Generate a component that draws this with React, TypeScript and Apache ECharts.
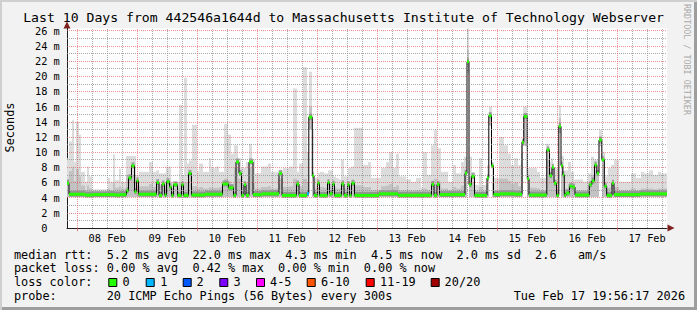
import React, { useEffect, useRef } from "react";
import * as echarts from "echarts";

// ---------- data ----------
const TITLE = "Last 10 Days from 442546a1644d to Massachusetts Institute of Technology Webserver";
const WATERMARK = "RRDTOOL / TOBI OETIKER";
const Y_TITLE = "Seconds";

// x is hours since Feb 7 00:00; graph spans Feb 7 19:56 .. Feb 17 19:56
const X_MIN = 19.94;
const X_MAX = 259.94;
const Y_MAX = 26.36;

const dayLabels = ["08 Feb", "09 Feb", "10 Feb", "11 Feb", "12 Feb", "13 Feb", "14 Feb", "15 Feb", "16 Feb", "17 Feb"];
const dayLabelHours = [36, 60, 84, 108, 132, 156, 180, 204, 228, 252];
const midnightHours = [24, 48, 72, 96, 120, 144, 168, 192, 216, 240];
const yLabelValues = [0, 2, 4, 6, 8, 10, 12, 14, 16, 18, 20, 22, 24, 26];

// median rtt (ms), step function: value holds from medianHours[i] to medianHours[i+1]
const medianHours = [
  19.94, 20.74, 27.14, 29.94, 39.14, 41.14, 43.74, 44.54, 45.74, 46.94, 47.74, 48.54,
  55.74, 56.74, 57.94, 58.94, 59.74, 60.94, 61.74, 62.54, 64.14, 65.74, 66.54, 68.54,
  69.74, 75.14, 82.14, 84.54, 86.54, 87.54, 88.74, 89.74, 90.74, 91.54, 92.74, 94.34,
  97.94, 104.74, 105.94, 111.74, 112.74, 115.94, 116.66, 118.06, 118.74, 120.14, 120.94,
  124.14, 124.94, 126.14, 126.94, 129.74, 130.74, 132.14, 132.94, 133.74, 134.94,
  144.74, 152.34, 165.74, 166.74, 167.94, 168.94, 179.14, 179.94, 180.74, 181.74,
  182.94, 187.94, 188.66, 189.74, 190.54, 193.14, 199.14, 201.94, 202.66, 204.06,
  204.74, 211.86, 212.94, 213.94, 214.74, 215.74, 216.66, 217.54, 218.26, 218.86,
  219.54, 220.94, 222.14, 223.14, 228.86, 229.86, 230.94, 231.86, 232.74, 233.86,
  234.86, 235.82, 237.94, 238.74, 249.14,
];
const medianValues = [
  5.9, 4.45, 4.35, 4.4, 4.35, 4.4, 4.9, 6.6, 8.2, 4.8, 6.2, 4.45,
  6.0, 4.3, 5.8, 4.35, 6.1, 5.4, 4.3, 5.7, 4.3, 5.7, 4.3, 7.2,
  4.35, 4.45, 5.8, 5.3, 4.3, 8.7, 7.2, 4.3, 5.7, 4.3, 8.7, 4.4,
  4.5, 7.2, 4.3, 5.8, 4.3, 4.55, 14.6, 6.9, 4.3, 5.9, 4.3,
  6.0, 4.5, 5.8, 4.3, 5.8, 4.3, 5.7, 4.3, 5.9, 4.3,
  4.5, 4.3, 5.75, 4.3, 5.75, 4.4, 7.2, 21.9, 5.7, 6.8,
  4.3, 6.6, 14.8, 8.2, 4.4, 4.5, 4.45, 11.3, 14.7, 6.5,
  4.35, 10.3, 6.9, 8.0, 5.9, 4.3, 13.4, 8.2, 7.0, 4.3,
  4.6, 5.5, 5.4, 4.35, 5.7, 6.2, 8.3, 7.2, 11.6, 9.0,
  5.5, 4.3, 5.9, 4.4, 4.5,
];
// packets lost (of 20) per median step
const medianLoss = medianHours.map((h) => (h === 115.94 ? 1 : 0));

// smoke (distribution of the 20 pings), blocks from smokeStart[i] to smokeStart[i+1]
const smokeStart = [
  19.94, 20.74, 21.94, 22.74, 23.54, 24.74, 25.54, 27.14, 27.94, 28.74, 29.94, 36.34, 37.14, 38.34, 39.14,
  40.74, 41.54, 43.54, 47.54, 48.74, 52.74, 54.34, 55.54, 56.74, 59.54, 61.54, 64.74, 65.94, 66.74, 67.94,
  68.74, 69.94, 71.94, 72.74, 74.34, 76.74, 77.54, 79.54, 80.74, 82.74, 84.34, 85.54, 86.74, 88.34, 89.54,
  91.54, 92.74, 93.94, 95.14, 97.54, 100.34, 101.54, 104.34, 106.34, 108.74, 110.34, 111.94, 112.74, 114.34,
  115.94, 116.74, 117.94, 118.74, 120.34, 121.14, 122.74, 124.34, 126.34, 127.54, 128.74, 129.54, 130.74,
  132.34, 133.54, 134.74, 138.34, 140.34, 141.54, 145.54, 147.54, 148.74, 150.34, 151.54, 152.74, 155.54,
  157.54, 159.54, 161.54, 162.34, 163.94, 165.54, 166.74, 167.94, 169.54, 172.34, 174.34, 175.54, 177.54,
  178.74, 179.94, 180.74, 181.94, 183.14, 184.74, 185.94, 187.94, 188.74, 189.94, 190.74, 192.74, 194.74,
  196.34, 197.54, 198.74, 200.34, 201.54, 202.34, 203.94, 205.14, 207.94, 209.14, 211.54, 212.74, 213.54,
  214.34, 215.94, 216.66, 217.54, 218.74, 220.34, 221.54, 222.74, 226.34, 228.34, 229.54, 230.74, 232.74,
  233.94, 235.14, 236.34, 237.54, 238.74, 240.74, 245.54, 247.54, 249.54, 250.74, 252.74, 254.34, 256.34,
  257.54,
];
const smokeMax = [
  9.2, 11.4, 14.2, 8.7, 14.0, 12.3, 7.4, 6.1, 8.1, 6.8, 5.1, 6.6, 6.1, 9.7, 6.3,
  7.8, 6.1, 9.5, 7.0, 7.4, 8.7, 7.4, 7.6, 7.2, 8.1, 6.1, 16.2, 7.0, 19.8, 8.5,
  8.9, 13.6, 7.4, 8.5, 7.4, 9.2, 7.9, 8.1, 7.4, 13.7, 12.3, 9.8, 10.9, 9.2, 7.9,
  8.7, 11.1, 9.0, 7.2, 8.1, 8.5, 7.4, 7.6, 7.9, 8.1, 18.4, 7.4, 8.5, 21.2,
  10.0, 20.6, 12.9, 6.6, 7.2, 7.4, 7.2, 7.6, 6.8, 6.6, 6.4, 9.0, 6.8,
  7.9, 8.1, 13.2, 8.3, 8.7, 6.6, 7.9, 8.7, 10.0, 7.9, 9.8, 6.8, 6.4,
  6.1, 6.6, 5.3, 10.0, 7.0, 10.9, 12.9, 10.5, 7.4, 6.1, 8.3, 7.2, 8.7,
  9.4, 26.3, 9.4, 7.4, 5.7, 9.2, 5.7, 8.3, 16.0, 8.3, 6.6, 12.0, 10.9,
  9.8, 8.3, 9.2, 8.3, 11.5, 16.0, 7.9, 7.9, 7.4, 6.6, 11.1, 8.7, 9.2,
  7.9, 7.9, 16.2, 9.5, 7.6, 8.7, 7.4, 6.4, 6.1, 7.2, 9.4, 9.0, 12.9,
  10.0, 6.8, 7.9, 8.3, 9.0, 6.1, 7.2, 6.6, 7.4, 7.2, 7.6, 7.0, 7.4,
  7.2,
];
const smokeMid = [
  6.5, 7.5, 8.0, 6.2, 7.8, 6.8, 5.6, 5.0, 5.6, 5.2, 4.7, 5.2, 5.0, 6.0, 5.3,
  5.5, 5.2, 7.0, 5.6, 5.5, 5.8, 5.4, 6.2, 5.6, 6.2, 5.2, 6.0, 5.0, 6.0, 6.0,
  7.2, 5.5, 5.2, 5.4, 5.2, 5.4, 5.3, 5.3, 5.4, 6.5, 6.2, 5.8, 8.0, 6.5, 5.8,
  6.0, 8.0, 6.0, 5.2, 5.4, 5.5, 5.2, 6.5, 5.4, 5.5, 6.5, 5.6, 5.5, 6.5,
  6.0, 16.0, 7.0, 5.2, 5.4, 5.4, 5.3, 5.8, 5.3, 5.2, 5.2, 5.8, 5.2,
  5.6, 5.8, 5.6, 5.4, 5.4, 5.0, 5.5, 5.6, 5.8, 5.4, 5.6, 5.0, 5.0,
  4.9, 5.0, 4.8, 5.2, 5.0, 6.2, 6.5, 6.0, 5.2, 5.0, 5.4, 5.2, 5.6,
  7.6, 23.5, 6.8, 6.0, 4.9, 5.4, 4.9, 7.0, 15.2, 6.0, 5.0, 6.5, 6.5,
  6.2, 5.8, 6.0, 5.5, 10.0, 15.0, 6.2, 5.3, 5.2, 5.0, 9.0, 7.2, 7.8,
  5.8, 5.2, 14.5, 7.5, 5.2, 5.8, 5.6, 5.0, 5.0, 6.0, 7.0, 7.5, 12.0,
  8.5, 5.2, 5.3, 6.0, 5.4, 5.0, 5.2, 5.0, 5.2, 5.2, 5.2, 5.1, 5.2,
  5.2,
];
const smokeLowOverrides: Record<string, number> = {
  "116.74": 13.0,
  "179.94": 20.5,
  "188.74": 13.5,
  "202.34": 10.8,
  "216.66": 12.5,
  "232.74": 10.8,
};
const SMOKE_LOW_DEFAULT = 4.1;

// legend
const lossLabels = ["0", "1", "2", "3", "4-5", "6-10", "11-19", "20/20"];
const lossColors = ["#26ff00", "#00b8ff", "#0059ff", "#7e00ff", "#ff00ff", "#ff5500", "#ff0000", "#a00000"];
const statLine1: [number, string][] = [
  [0, "median rtt:"], [13, "5.2 ms avg"], [25, "22.0 ms max"], [38, "4.3 ms min"],
  [50, "4.5 ms now"], [62, "2.0 ms sd"], [73, "2.6"], [79, "am/s"],
];
const statLine2: [number, string][] = [
  [0, "packet loss:"], [13, "0.00 % avg"], [25, "0.42 % max"], [37, "0.00 % min"], [49, "0.00 % now"],
];
const lossLineLabel = "loss color:";
const probeLine: [number, string][] = [[0, "probe:"], [13, "20 ICMP Echo Pings (56 Bytes) every 300s"]];
const timestampText = "Tue Feb 17 19:56:17 2026";

// ---------- layout / style ----------
const MONO = '"DejaVu Sans Mono", "Liberation Mono", monospace';
const LEG_FS = 11.86;
const CW = LEG_FS * 0.602;
const LEG_X0 = 13.9;
const LEG_Y = [254.6, 268.3, 282.0, 295.7];
const boxX = [108.3, 145.7, 182.7, 219.3, 256, 306.7, 365.7, 430.7];
const boxLabelX = [122.6, 160.3, 196.6, 233.6, 270.0, 321.0, 380.0, 444.6];

function lossColor(n: number) {
  if (n <= 0) return lossColors[0];
  if (n === 1) return lossColors[1];
  if (n === 2) return lossColors[2];
  if (n === 3) return lossColors[3];
  if (n <= 5) return lossColors[4];
  if (n <= 10) return lossColors[5];
  if (n <= 19) return lossColors[6];
  return lossColors[7];
}

export default function App() {
  const ref = useRef<HTMLDivElement>(null);

  useEffect(() => {
    document.body.style.margin = "0";
    const chart = echarts.init(ref.current!, null, { renderer: "svg" });

    const minorStyle = { color: "rgba(143,143,143,0.75)", type: [1, 1] as any, width: 1 };
    const majorStyle = { color: "rgba(222,79,79,0.6)", type: [1, 1] as any, width: 1 };
    const minorX: number[] = [];
    for (let h = 6; h < X_MAX; h += 6) if (h > X_MIN && h % 24 !== 0) minorX.push(h);
    const yMinor: number[] = [];
    for (let v = 1; v < Y_MAX; v += 2) yMinor.push(v);
    const yMajor = yLabelValues.filter((v) => v > 0);

    const smokeData = smokeStart.map((s, i) => [
      s,
      i + 1 < smokeStart.length ? smokeStart[i + 1] : X_MAX,
      smokeLowOverrides[s.toFixed(2)] ?? SMOKE_LOW_DEFAULT,
      smokeMid[i],
      smokeMax[i],
    ]);
    const medianSteps = medianHours.map((h, i) => [
      h,
      i + 1 < medianHours.length ? medianHours[i + 1] : X_MAX,
      medianValues[i],
      medianLoss[i],
    ]);
    const medianLine = medianHours.map((h, i) => [h, medianValues[i]]);
    medianLine.push([X_MAX, medianValues[medianValues.length - 1]]);

    const txt = (x: number, y: number, text: string, extra: any = {}) => ({
      type: "text",
      x,
      y,
      silent: true,
      style: {
        text,
        x: 0,
        y: 0,
        fill: extra.fill ?? "#000",
        font: `${extra.fontSize ?? LEG_FS}px ${MONO}`,
        align: extra.align ?? "left",
        verticalAlign: "middle",
        ...(extra.lineHeight ? { lineHeight: extra.lineHeight } : {}),
      },
      ...(extra.rotation !== undefined ? { rotation: extra.rotation } : {}),
    });

    const graphics: any[] = [];
    graphics.push(txt(23.2, 17.6, TITLE, { fontSize: 13.15, lineHeight: 11 }));
    graphics.push(txt(687, 4, WATERMARK, { fontSize: 8.4, fill: "#aaaaaa", rotation: -Math.PI / 2 }));
    graphics.push(txt(10, 127.5, Y_TITLE, { align: "center", rotation: Math.PI / 2 }));
    statLine1.forEach(([c, t]) => graphics.push(txt(LEG_X0 + c * CW, LEG_Y[0], t)));
    statLine2.forEach(([c, t]) => graphics.push(txt(LEG_X0 + c * CW, LEG_Y[1], t)));
    graphics.push(txt(LEG_X0, LEG_Y[2], lossLineLabel));
    lossLabels.forEach((l, i) => {
      graphics.push({
        type: "rect",
        silent: true,
        shape: { x: boxX[i] + 0.5, y: 278.5, width: 8, height: 8 },
        style: { fill: lossColors[i], stroke: "#000", lineWidth: 1 },
      });
      graphics.push(txt(boxLabelX[i], LEG_Y[2], l));
    });
    probeLine.forEach(([c, t]) => graphics.push(txt(LEG_X0 + c * CW, LEG_Y[3], t)));
    graphics.push(txt(LEG_X0 + 70 * CW, LEG_Y[3], timestampText));

    const option: any = {
      animation: false,
      backgroundColor: "transparent",
      grid: {
        left: 67,
        right: 30,
        top: 28,
        bottom: 82,
        show: true,
        backgroundColor: "#ffffff",
        borderWidth: 0,
      },
      xAxis: {
        type: "value",
        min: X_MIN,
        max: X_MAX,
        axisLine: { show: true, onZero: false, lineStyle: { color: "#1f1f1f", width: 1 } },
        splitLine: { show: false },
        axisTick: {
          show: true,
          customValues: midnightHours,
          length: 3,
          lineStyle: { color: "rgba(222,79,79,0.8)" },
        },
        axisLabel: {
          show: true,
          customValues: dayLabelHours,
          formatter: (v: number) => {
            const i = dayLabelHours.findIndex((h) => Math.abs(h - v) < 0.01);
            return i >= 0 ? dayLabels[i] : "";
          },
          fontFamily: MONO,
          fontSize: 10.3,
          color: "#000",
          margin: 5,
        },
      },
      yAxis: {
        type: "value",
        min: 0,
        max: Y_MAX,
        interval: 2,
        axisLine: { show: true, lineStyle: { color: "#1f1f1f", width: 1 } },
        axisTick: { show: false },
        splitLine: { show: false },
        axisLabel: {
          fontFamily: MONO,
          fontSize: 10.3,
          lineHeight: 10,
          color: "#000",
          margin: 7.2,
          formatter: (v: number) => {
            const r = Math.round(v);
            if (Math.abs(v - r) > 1e-6 || !yLabelValues.includes(r)) return "";
            return r === 0 ? "{z|0}" : `${r} m`;
          },
          rich: {
            z: { fontFamily: MONO, fontSize: 10.3, lineHeight: 10, color: "#000", padding: [0, 12.4, 0, 0] },
          },
        },
      },
      graphic: graphics,
      series: [
        {
          type: "custom",
          name: "smoke",
          z: 1,
          silent: true,
          clip: true,
          data: smokeData,
          encode: { x: [0, 1], y: [2, 3, 4] },
          renderItem: (params: any, api: any) => {
            const x0 = api.value(0), x1 = api.value(1);
            const lo = api.value(2), mid = api.value(3), hi = api.value(4);
            const pTop = api.coord([x0, hi]);
            const pMid = api.coord([x0, mid]);
            const pLo = api.coord([x1, lo]);
            return {
              type: "group",
              children: [
                {
                  type: "rect",
                  shape: { x: pTop[0], y: pTop[1], width: pLo[0] - pTop[0], height: pLo[1] - pTop[1] },
                  style: { fill: "#dcdcdc" },
                },
                {
                  type: "rect",
                  shape: { x: pMid[0], y: pMid[1], width: pLo[0] - pMid[0], height: pLo[1] - pMid[1] },
                  style: { fill: "#c2c2c2" },
                },
              ],
            };
          },
        },
        {
          type: "line",
          name: "grid",
          z: 2,
          silent: true,
          data: [],
          markLine: {
            silent: true,
            symbol: ["none", "none"],
            label: { show: false },
            animation: false,
            data: [
              ...minorX.map((v) => ({ xAxis: v, lineStyle: minorStyle })),
              ...yMinor.map((v) => ({ yAxis: v, lineStyle: minorStyle })),
              ...midnightHours.map((v) => ({ xAxis: v, lineStyle: majorStyle })),
              ...yMajor.map((v) => ({ yAxis: v, lineStyle: majorStyle })),
            ],
          },
          markPoint: {
            silent: true,
            animation: false,
            label: { show: false },
            data: [
              {
                coord: [X_MIN, Y_MAX],
                symbol: "triangle",
                symbolSize: [7, 7],
                symbolOffset: [0, -3],
                itemStyle: { color: "#801f1f" },
              },
              {
                coord: [X_MAX, 0],
                symbol: "triangle",
                symbolSize: [7, 7],
                symbolRotate: -90,
                symbolOffset: [4, 0],
                itemStyle: { color: "#801f1f" },
              },
            ],
          },
        },
        {
          type: "custom",
          name: "median band",
          z: 3,
          silent: true,
          clip: true,
          data: medianSteps,
          encode: { x: [0, 1], y: 2 },
          renderItem: (params: any, api: any) => {
            const p0 = api.coord([api.value(0), api.value(2)]);
            const p1 = api.coord([api.value(1), api.value(2)]);
            return {
              type: "rect",
              shape: { x: p0[0], y: p0[1] - 3.5, width: p1[0] - p0[0], height: 6 },
              style: { fill: "rgba(110,110,110,0.55)" },
            };
          },
        },
        {
          type: "line",
          name: "median rtt",
          z: 4,
          silent: true,
          step: "end",
          symbol: "none",
          data: medianLine,
          lineStyle: { color: "#000000", width: 1 },
        },
        {
          type: "custom",
          name: "loss",
          z: 5,
          silent: true,
          clip: true,
          data: medianSteps,
          encode: { x: [0, 1], y: 2 },
          renderItem: (params: any, api: any) => {
            const p0 = api.coord([api.value(0), api.value(2)]);
            const p1 = api.coord([api.value(1), api.value(2)]);
            return {
              type: "line",
              shape: { x1: p0[0], y1: p0[1], x2: p1[0], y2: p1[1] },
              style: { stroke: lossColor(api.value(3)), lineWidth: 3 },
            };
          },
        },
      ],
    };

    chart.setOption(option);
    return () => chart.dispose();
  }, []);

  return (
    <div
      style={{
        position: "relative",
        width: 697,
        height: 310,
        background: "#f2f2f2",
        boxShadow: "inset 2px 2px 0 #cfcfcf, inset -3px -3px 0 #9e9e9e",
      }}
    >
      <div ref={ref} style={{ position: "absolute", left: 0, top: 0, width: 697, height: 310 }} />
    </div>
  );
}
